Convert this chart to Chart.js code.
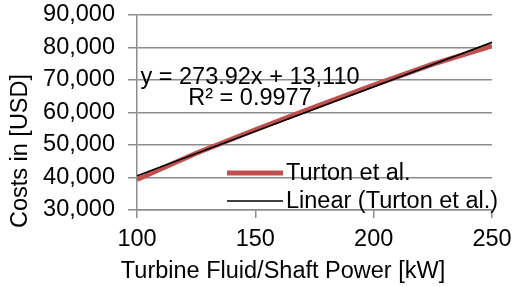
<!DOCTYPE html>
<html>
<head>
<meta charset="utf-8">
<script src="https://cdn.jsdelivr.net/npm/chart.js@4"></script>
<style>
  html, body { margin: 0; padding: 0; background: #fff; }
</style>
</head>
<body>
<canvas id="myChart" width="512" height="287"></canvas>
<script>
// values
const powerKW = [100, 125, 150, 175, 200, 225, 250];
const turtonCost = [39400, 47450, 54700, 61650, 68400, 74900, 80500];
const trendSlope = 273.92;
const trendIntercept = 13110;
const yTicks = [30000, 40000, 50000, 60000, 70000, 80000, 90000];
const xTicks = [100, 150, 200, 250];
const xTitle = 'Turbine Fluid/Shaft Power [kW]';
const yTitle = 'Costs in [USD]';

const FONT = '"Liberation Sans", Arial, sans-serif';
const FS = 23.5;
const GRID = '#8c8c8c';
const RED = 'rgb(192,80,77)';

let turtonPoints = powerKW.map((x, i) => ({ x: x, y: turtonCost[i] }));
let xFirst = powerKW[0], xLast = powerKW[powerKW.length - 1];
let trendPoints = [xFirst, xLast].map(x => ({ x: x, y: trendSlope * x + trendIntercept }));

// axis titles, legend and trendline label placed like Excel does
const insideText = {
    id: 'insideText',
    afterDraw(chart) {
        const c = chart.ctx;
        const a = chart.chartArea;
        c.save();
        c.font = FS + 'px ' + FONT;
        c.fillStyle = '#000';
        c.textBaseline = 'middle';
        c.textAlign = 'center';

        // axis titles (Excel centres them on the whole chart, not the plot)
        c.fillText(xTitle, 283, 272);
        c.save();
        c.translate(21, 151);
        c.rotate(-Math.PI / 2);
        c.fillText(yTitle, 0, 0);
        c.restore();

        // equation
        let eqX = a.left + 113;
        c.fillText('y = ' + trendSlope + 'x + ' + trendIntercept.toLocaleString('en-US'), eqX, 78);
        c.fillText('R\u00b2 = 0.9977', eqX, 99);

        // legend
        c.textAlign = 'left';
        let rows = [
            { label: chart.data.datasets[0].label, color: RED, width: 5, y: 173 },
            { label: chart.data.datasets[1].label, color: '#000', width: 1.6, y: 201 }
        ];
        rows.forEach(r => {
            c.strokeStyle = r.color;
            c.lineWidth = r.width;
            c.beginPath();
            c.moveTo(227, r.y);
            c.lineTo(283, r.y);
            c.stroke();
            c.fillText(r.label, 286, r.y + 1);
        });
        c.restore();
    }
};

let myChart = document.getElementById('myChart').getContext('2d');

let costChart = new Chart(myChart, {
    type: 'scatter',
    data: {
        datasets: [{
            label: 'Turton et al.',
            data: turtonPoints,
            showLine: true,
            borderColor: RED,
            borderWidth: 5,
            pointRadius: 0,
            order: 2
        }, {
            label: 'Linear (Turton et al.)',
            data: trendPoints,
            showLine: true,
            borderColor: '#000',
            borderWidth: 1.6,
            pointRadius: 0,
            order: 1
        }]
    },
    options: {
        responsive: false,
        animation: false,
        layout: { padding: { top: 15, right: 20, bottom: 1, left: 0 } },
        plugins: {
            legend: { display: false },
            tooltip: { enabled: false }
        },
        scales: {
            x: {
                type: 'linear',
                min: 100,
                max: 250,
                afterBuildTicks: s => { s.ticks = xTicks.map(v => ({ value: v })); },
                afterFit: s => { s.height = 76; s.paddingRight = 0; s.paddingLeft = 0; },
                grid: { drawOnChartArea: false, color: GRID, lineWidth: 1.5, tickLength: 8 },
                border: { color: GRID, width: 1.5 },
                ticks: { color: '#000', font: { family: FONT, size: FS }, padding: 7, autoSkip: false, maxRotation: 0 }
            },
            y: {
                min: 30000,
                max: 90000,
                afterBuildTicks: s => { s.ticks = yTicks.map(v => ({ value: v })); },
                afterFit: s => { s.width = 137; s.paddingTop = 0; s.paddingBottom = 0; },
                grid: { color: GRID, lineWidth: 1.5, tickLength: 9 },
                border: { color: GRID, width: 1.5 },
                ticks: {
                    color: '#000',
                    font: { family: FONT, size: FS },
                    padding: 13,
                    autoSkip: false,
                    callback: v => v.toLocaleString('en-US')
                }
            }
        }
    },
    plugins: [insideText]
});
</script>
</body>
</html>
